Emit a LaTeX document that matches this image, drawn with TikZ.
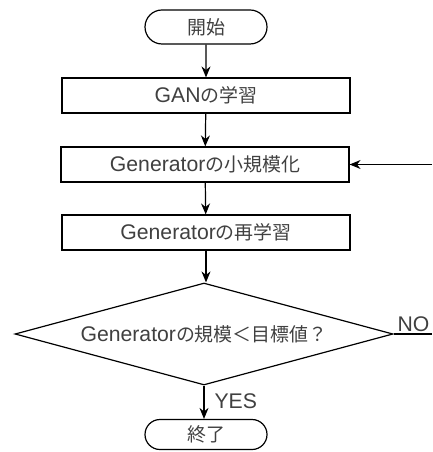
\documentclass[tikz,border=0pt]{standalone}
\usepackage{fontspec}
\setmainfont{Liberation Sans}[Scale=1.12]
\newfontfamily\jp{Noto Sans CJK JP}
\usetikzlibrary{shapes.geometric,shapes.misc,arrows.meta}
\begin{document}
\begin{tikzpicture}[x=1bp,y=-1bp,
  line width=1.2bp,
  every node/.style={font=\fontsize{19}{22}\selectfont, text=black!75},
  term/.style={draw, rounded rectangle, minimum width=122bp, minimum height=34bp, inner sep=0},
  proc/.style={draw, rectangle, minimum width=288bp, minimum height=35bp, inner sep=0},
  dec/.style={draw, diamond, minimum width=378bp, minimum height=102bp, inner sep=0, shape aspect=3.7},
  arr/.style={-{Stealth[length=11bp,width=9bp]}},
  lbl/.style={inner sep=1bp}
]
\useasboundingbox (0,0) rectangle (432,452);
\node[term] (start) at (206,27) {\jp 開始};
\node[proc] (gan) at (206,95.5) {GAN\jp の学習};
\node[proc] (small) at (205,164.5) {Generator\jp の小規模化};
\node[proc] (retrain) at (206,232.5) {Generator\jp の再学習};
\node[dec] (cond) at (204,334) {Generator\jp の規模＜目標値？};
\node[term, minimum height=30bp] (end) at (206,434.5) {\jp 終了};
\coordinate (noR) at (432,334);
\coordinate (fbR) at (432,164.5);
\draw[arr] (start) -- (gan);
\draw[arr] (gan) -- (small);
\draw[arr] (small) -- (retrain);
\draw[arr] (retrain.south) -- (retrain.south |- cond.north);
\draw[arr] (cond.south) -- (end.north -| cond.south);
\draw (cond.east) -- (noR);
\draw[arr] (fbR) -- (small.east);
\node[lbl, anchor=south west] (no) at (396,333) {NO};
\node[lbl, anchor=west] (yes) at (213,401) {YES};
\end{tikzpicture}
\end{document}
